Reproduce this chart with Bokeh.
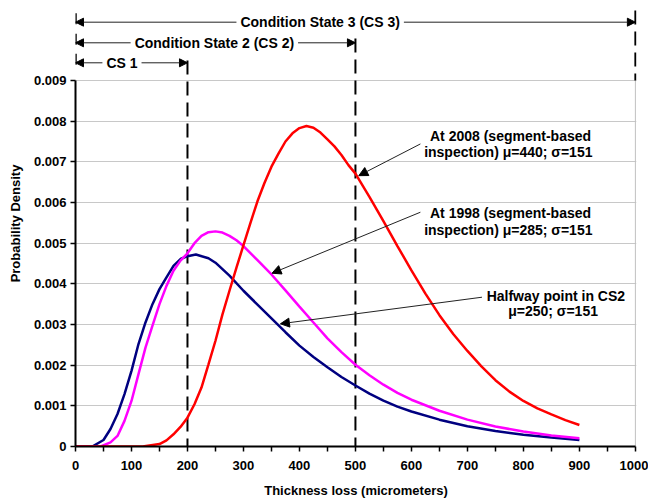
from bokeh.plotting import figure
from bokeh.models import (Range1d, FixedTicker, Arrow, NormalHead, Label,
                          ColumnDataSource)
from bokeh.core.properties import value
from bokeh.embed import file_html
from bokeh.resources import INLINE

# ---------------- data ----------------
x_navy = [0, 30, 50, 62.5, 75, 87.5, 100, 112.5, 125, 137.5, 150, 162.5, 175,
          187.5, 200, 215, 237.5, 250, 275, 300, 325, 350, 375, 400, 425, 450,
          475, 500, 525, 550, 575, 600, 650, 700, 750, 800, 850, 900]
y_navy = [0, 0, 0.00016, 0.00043, 0.0008, 0.00129, 0.00186, 0.00252, 0.00305,
          0.0035, 0.00387, 0.00416, 0.00444, 0.00461, 0.00468, 0.00472, 0.00463,
          0.00452, 0.0042, 0.00383, 0.00349, 0.00315, 0.00281, 0.00248, 0.0022,
          0.00195, 0.00171, 0.0015, 0.0013, 0.00113, 0.00098, 0.00086, 0.00066,
          0.0005, 0.00038, 0.00029, 0.00022, 0.00016]

x_mag = [0, 45, 62.5, 75, 87.5, 100, 112.5, 125, 137.5, 150, 162.5, 175, 187.5,
         200, 212.5, 225, 237.5, 250, 262.5, 275, 287.5, 300, 325, 350, 375, 400,
         425, 450, 475, 500, 525, 550, 575, 600, 650, 700, 750, 800, 850, 900]
y_mag = [0, 0, 0.0001, 0.00026, 0.00063, 0.00112, 0.00178, 0.00243, 0.00297,
         0.0035, 0.00395, 0.00432, 0.00457, 0.00475, 0.005, 0.00518, 0.00527,
         0.00529, 0.00526, 0.00518, 0.00507, 0.00493, 0.00458, 0.00423, 0.00384,
         0.00344, 0.00305, 0.00266, 0.00232, 0.00201, 0.00175, 0.00152, 0.00132,
         0.00115, 0.00088, 0.00066, 0.00049, 0.00037, 0.00027, 0.0002]

x_red = [0, 120, 150, 162.5, 175, 187.5, 200, 212.5, 225, 237.5, 250, 262.5,
         275, 287.5, 300, 312.5, 325, 337.5, 350, 362.5, 375, 387.5, 400, 412.5,
         425, 437.5, 450, 462.5, 475, 487.5, 500, 525, 550, 575, 600, 625, 650,
         675, 700, 725, 750, 775, 800, 825, 850, 875, 900]
y_red = [0, 0, 0.00006, 0.00015, 0.0003, 0.00048, 0.00071, 0.00104, 0.00145,
         0.00202, 0.0026, 0.00325, 0.00383, 0.0044, 0.00495, 0.0055, 0.00603,
         0.00648, 0.00688, 0.0072, 0.0075, 0.0077, 0.00783, 0.00788, 0.00784,
         0.00772, 0.00755, 0.00738, 0.00717, 0.00692, 0.00671, 0.00614, 0.00554,
         0.00493, 0.00433, 0.00376, 0.00323, 0.00276, 0.00235, 0.00197, 0.00163,
         0.00135, 0.00112, 0.00094, 0.00079, 0.00065, 0.00053]

x_ticks = [0, 100, 200, 300, 400, 500, 600, 700, 800, 900, 1000]
x_minor = [50, 150, 250, 350, 450, 550, 650, 750, 850, 950]
y_ticks = [0, 0.001, 0.002, 0.003, 0.004, 0.005, 0.006, 0.007, 0.008, 0.009]
y_tick_labels = ["0", "0.001", "0.002", "0.003", "0.004", "0.005", "0.006",
                 "0.007", "0.008", "0.009"]

# condition-state brackets
cs_labels = ["Condition State 3 (CS 3)", "Condition State 2 (CS 2)", "CS 1"]
cs_start = [0, 0, 0]
cs_end = [1000, 500, 200]
cs_level = [0.010434, 0.009927, 0.009435]
cs_text_x = [437, 248, 83]

# dashed boundary lines
bnd_x = [200, 500, 1000]
bnd_top = [0.00949, 0.010033, 0.010721]
bnd_bottom = [0, 0, 0.009]

# callouts
ann_text = ["At 2008 (segment-based", "inspection) \u03bc=440; \u03c3=151",
            "At 1998 (segment-based", "inspection) \u03bc=285; \u03c3=151",
            "Halfway point in CS2", "\u03bc=250; \u03c3=151"]
ann_x = [777, 773, 777, 773, 858, 853]
ann_y = [0.007647, 0.007236, 0.005736, 0.005328, 0.003713, 0.003327]
arr_x0 = [616, 616, 726]
arr_y0 = [0.00744, 0.005761, 0.003671]
arr_x1 = [506, 351, 366]
arr_y1 = [0.00666, 0.004261, 0.003017]

FONT = "Liberation Sans"
Y_TOP = 0.0109672
PX = Y_TOP / 446.0   # one pixel in y data units

p = figure(width=648, height=500, x_range=Range1d(0, 1002),
           y_range=Range1d(0, Y_TOP), output_backend="svg",
           toolbar_location=None, min_border_left=75, min_border_right=12,
           min_border_top=0, min_border_bottom=54)
p.outline_line_color = None
p.background_fill_color = "white"
p.border_fill_color = "white"

# grid
p.xgrid.visible = False
p.ygrid.ticker = FixedTicker(ticks=y_ticks)
p.ygrid.grid_line_color = "#c8c8c8"
p.ygrid.grid_line_width = 1

# axes
p.xaxis.ticker = FixedTicker(ticks=x_ticks, minor_ticks=x_minor)
p.yaxis.ticker = FixedTicker(ticks=y_ticks)
p.yaxis.major_label_overrides = dict(zip(y_ticks, y_tick_labels))
p.xaxis.bounds = (x_ticks[0], x_ticks[-1])
p.yaxis.bounds = (y_ticks[0], y_ticks[-1])
for ax in (p.xaxis[0], p.yaxis[0]):
    ax.axis_line_width = 2
    ax.axis_line_color = "black"
    ax.major_tick_line_width = 1.5
    ax.minor_tick_line_width = 1.5
    ax.major_tick_line_color = "black"
    ax.minor_tick_line_color = "black"
    ax.major_tick_in = 0
    ax.major_tick_out = 5
    ax.major_label_text_font = FONT
    ax.major_label_text_font_style = "bold"
    ax.major_label_text_font_size = "13px"
    ax.major_label_text_color = "black"
    ax.axis_label_text_font = FONT
    ax.axis_label_text_font_style = "bold"
    ax.axis_label_text_font_size = "13px"
    ax.axis_label_text_color = "black"
p.xaxis.minor_tick_in = 0
p.xaxis.minor_tick_out = 5
p.yaxis.minor_tick_line_color = None
p.xaxis.major_label_standoff = 9
p.yaxis.major_label_standoff = 4
p.xaxis.axis_label = "Thickness loss (micrometers)"
p.yaxis.axis_label = "Probability Density"
p.xaxis.axis_label_standoff = 10
p.yaxis.axis_label_standoff = 8

# right frame border
p.segment(x0=[x_ticks[-1]], y0=[y_ticks[0]], x1=[x_ticks[-1]], y1=[y_ticks[-1]],
          line_color="#c0c0c0", line_width=1)

# dashed boundary lines
p.segment(x0=bnd_x, y0=bnd_top, x1=bnd_x, y1=bnd_bottom, line_color="black",
          line_width=2, line_dash="14 7")

# curves
p.line(x_navy, y_navy, line_color="#000080", line_width=2.5)
p.line(x_mag, y_mag, line_color="#ff00ff", line_width=2.5)
p.line(x_red, y_red, line_color="#ff0000", line_width=2.5)

# bracket start bars
p.segment(x0=cs_start, y0=[v - 2 * PX for v in cs_level], x1=cs_start,
          y1=[v + 9 * PX for v in cs_level], line_color="black", line_width=2.5)

# bracket arrows
br_src = ColumnDataSource(dict(x0=cs_start, x1=cs_end, y=cs_level))
p.add_layout(Arrow(x_start="x0", y_start="y", x_end="x1", y_end="y",
                   source=br_src, line_color="#222222", line_width=1,
                   start=NormalHead(size=8, line_color="black", fill_color="black",
                                    line_width=1),
                   end=NormalHead(size=8, line_color="black", fill_color="black",
                                  line_width=1)))
for t, tx, ty in zip(cs_labels, cs_text_x, cs_level):
    p.add_layout(Label(x=tx, y=ty, text=t, text_align="center",
                       text_baseline="middle", text_font=FONT,
                       text_font_style="bold", text_font_size="14px",
                       text_color="black", background_fill_color="white",
                       padding=4))

# callout arrows
ar_src = ColumnDataSource(dict(x0=arr_x0, y0=arr_y0, x1=arr_x1, y1=arr_y1))
p.add_layout(Arrow(x_start="x0", y_start="y0", x_end="x1", y_end="y1",
                   source=ar_src, line_color="#222222", line_width=1,
                   end=NormalHead(size=9, line_color="black", fill_color="black",
                                  line_width=1)))

p.text(x=ann_x, y=ann_y, text=ann_text, text_align="center",
       text_baseline="middle", text_font=value(FONT), text_font_style="bold",
       text_font_size="14px", text_color="black")

open("out.html", "w").write(file_html(p, INLINE))
